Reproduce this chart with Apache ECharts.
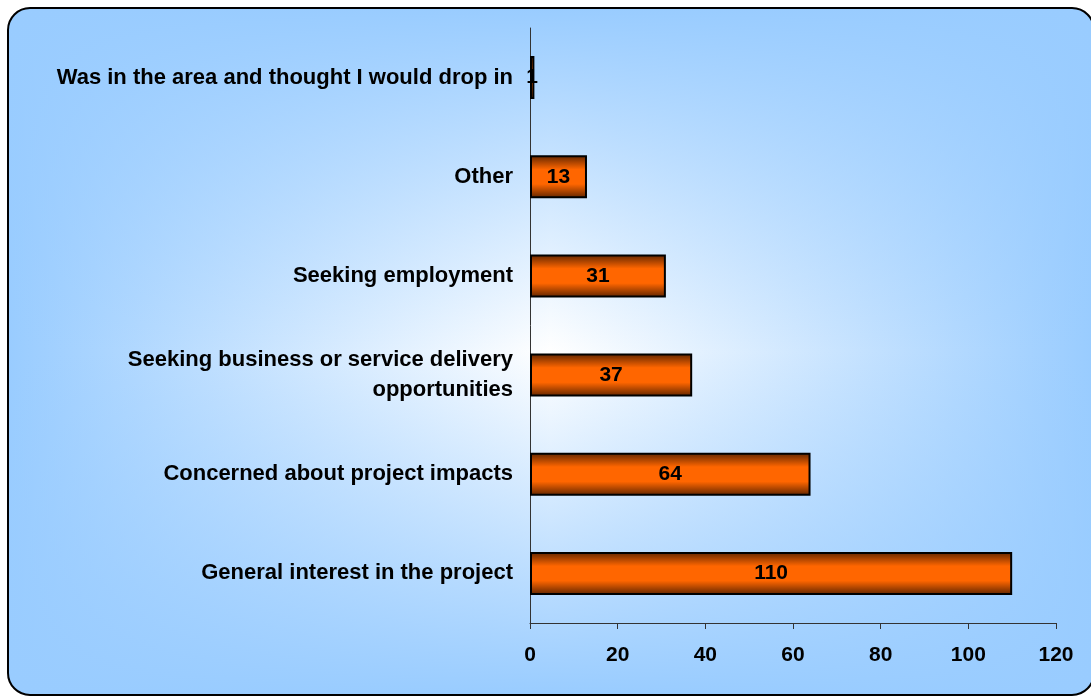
<!DOCTYPE html>
<html>
<head>
<meta charset="utf-8">
<script src="https://cdn.jsdelivr.net/npm/echarts@6/dist/echarts.min.js"></script>
<style>
html,body{margin:0;padding:0;background:#fff;}
#c{width:1091px;height:698px;}
</style>
</head>
<body>
<div id="c"></div>
<script>
const categories = [
  'General interest in the project',
  'Concerned about project impacts',
  'Seeking business or service delivery\nopportunities',
  'Seeking employment',
  'Other',
  'Was in the area and thought I would drop in'
];
const values = [110, 64, 37, 31, 13, 1];
const xTicks = [0, 20, 40, 60, 80, 100, 120];

const chart = echarts.init(document.getElementById('c'), null, {renderer: 'canvas'});
const FONT = '"Liberation Sans", Arial, sans-serif';
const cardShape = {x: 8, y: 8, width: 1086, height: 687, r: 22};

chart.setOption({
  animation: false,
  graphic: [
    {
      type: 'rect', z: -10, shape: cardShape,
      style: {
        fill: new echarts.graphic.LinearGradient(0, 0, 1, 0, [
          {offset: 0, color: '#99ccff'},
          {offset: 0.5, color: '#ffffff'},
          {offset: 1, color: '#99ccff'}
        ])
      }
    },
    {
      type: 'rect', z: -9, shape: cardShape,
      style: {
        fill: new echarts.graphic.LinearGradient(0, 0, 0, 1, [
          {offset: 0, color: 'rgba(153,204,255,1)'},
          {offset: 0.5, color: 'rgba(153,204,255,0)'},
          {offset: 1, color: 'rgba(153,204,255,1)'}
        ])
      }
    },
    {
      type: 'rect', z: -8, shape: cardShape,
      style: {fill: 'none', stroke: '#000', lineWidth: 2}
    }
  ],
  grid: {left: 530, right: 35, top: 28, bottom: 75, containLabel: false},
  xAxis: {
    type: 'value',
    min: 0, max: 120, interval: 20,
    splitLine: {show: false},
    axisLine: {show: true, lineStyle: {color: '#333', width: 1}},
    axisTick: {show: true, length: 6, lineStyle: {color: '#333'}},
    axisLabel: {
      color: '#000', fontFamily: FONT, fontWeight: 'bold', fontSize: 21, margin: 22,
      formatter: function (v) { return xTicks.indexOf(v) >= 0 ? String(v) : ''; }
    }
  },
  yAxis: {
    type: 'category',
    data: categories,
    axisLine: {show: true, lineStyle: {color: '#333', width: 1}},
    axisTick: {show: false},
    axisLabel: {
      color: '#000', fontFamily: FONT, fontWeight: 'bold', fontSize: 22, margin: 17,
      align: 'right', lineHeight: 30
    }
  },
  series: [{
    type: 'bar',
    data: values,
    barWidth: 43,
    itemStyle: {
      color: new echarts.graphic.LinearGradient(0, 0, 0, 1, [
        {offset: 0, color: '#5e2400'},
        {offset: 0.33, color: '#ff6600'},
        {offset: 0.67, color: '#ff6600'},
        {offset: 1, color: '#5e2400'}
      ]),
      borderColor: '#000',
      borderWidth: 2
    },
    label: {
      show: true, position: 'inside',
      color: '#000', fontFamily: FONT, fontWeight: 'bold', fontSize: 21
    }
  }]
});
</script>
</body>
</html>
